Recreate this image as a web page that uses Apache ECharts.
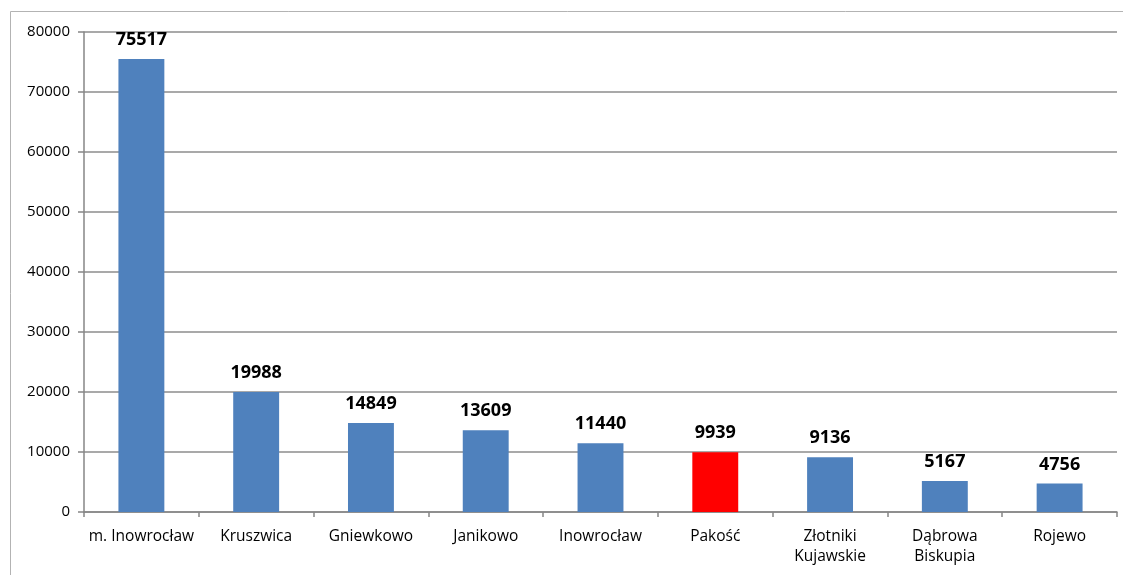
<!DOCTYPE html>
<html>
<head>
  <meta charset="UTF-8">
  <title>Ludność gmin</title>
  <script src="https://cdn.jsdelivr.net/npm/echarts@6/dist/echarts.min.js"></script>
  <style>
    html, body { margin: 0; padding: 0; background: #fff; }
    #chart { width: 1123px; height: 575px; }
  </style>
</head>
<body>
  <div id="chart"></div>
  <script>
// dane
const gminy = ['m. Inowrocław', 'Kruszwica', 'Gniewkowo', 'Janikowo', 'Inowrocław', 'Pakość', 'Złotniki\nKujawskie', 'Dąbrowa\nBiskupia', 'Rojewo']
const ludnosc = [75517, 19988, 14849, 13609, 11440, 9939, 9136, 5167, 4756]
const wyroznione = 'Pakość'

const chart = echarts.init(document.getElementById('chart'))
const font = '"Open Sans", "Liberation Sans", sans-serif'

chart.setOption({
  animation: false,
  textStyle: { fontFamily: font },
  graphic: [{
    type: 'rect',
    silent: true,
    shape: { x: 10.5, y: 11.5, width: 1130, height: 600 },
    style: { fill: 'none', stroke: '#b3b3b3', lineWidth: 1 }
  }],
  grid: { left: 84, right: 6, top: 32, bottom: 63 },
  xAxis: {
    type: 'category',
    data: gminy,
    axisLine: { lineStyle: { color: '#868686', width: 1.5 } },
    axisTick: { show: true, length: 5, lineStyle: { color: '#868686', width: 1.5 } },
    axisLabel: { color: '#000', fontSize: 15.5, margin: 15, lineHeight: 20, interval: 0 }
  },
  yAxis: {
    type: 'value',
    min: 0,
    max: 80000,
    interval: 10000,
    axisLine: { show: true, lineStyle: { color: '#868686', width: 1.5 } },
    axisTick: { show: true, length: 6, lineStyle: { color: '#868686', width: 1.5 } },
    splitLine: { lineStyle: { color: '#8c8c8c', width: 1.5 } },
    axisLabel: { color: '#000', fontSize: 15, margin: 14, formatter: v => String(v) }
  },
  series: [{
    type: 'bar',
    barWidth: '40%',
    data: ludnosc.map((v, i) => ({
      value: v,
      itemStyle: { color: gminy[i] === wyroznione ? '#ff0000' : '#4f81bd' }
    })),
    label: {
      show: true,
      position: 'top',
      distance: 10,
      color: '#000',
      fontSize: 18,
      fontWeight: 'bold'
    }
  }]
})
  </script>
</body>
</html>
